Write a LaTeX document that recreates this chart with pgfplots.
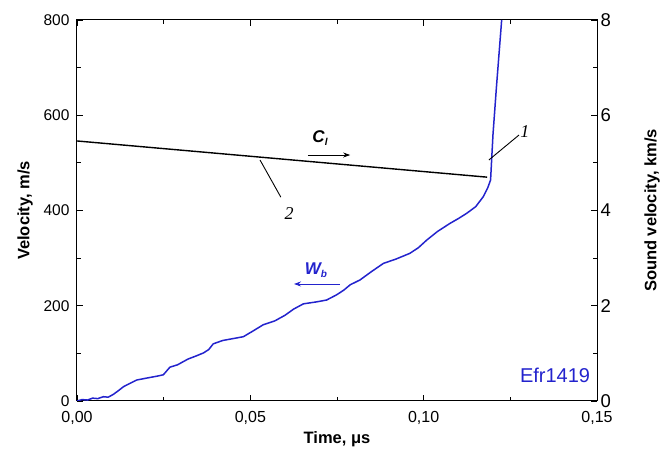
\documentclass[border=0pt]{standalone}
\usepackage{pgfplots}
\pgfplotsset{compat=1.18}
\usepackage{fontspec}
\setmainfont{Liberation Sans}
\newfontfamily\serifit{Liberation Serif}
\usetikzlibrary{arrows.meta}
\definecolor{wblue}{RGB}{35,35,205}

\begin{document}
\begin{tikzpicture}
\pgfplotsset{
  common/.style={
    scale only axis, width=520pt, height=381pt,
    xmin=0, xmax=0.15,
    axis line style={line width=1pt},
    tick style={black, line width=0.9pt},
    major tick length=6pt, minor tick length=4pt,
    tick align=inside,
    /pgf/number format/assume math mode=true,
    label style={font=\bfseries\fontsize{16.5}{18}\selectfont},
  }
}
% left axis: velocity of the boundary
\begin{axis}[common,
  ymin=0, ymax=800,
  ytick={0,200,400,600,800},
  minor ytick={100,300,500,700},
  xtick={0,0.05,0.1,0.15},
  xticklabels={0{,}00,0{,}05,0{,}10,0{,}15},
  minor xtick={0.025,0.075,0.125},
  xtick pos=both, ytick pos=left,
  xticklabel style={font=\fontsize{16}{18}\selectfont, yshift=-7pt},
  yticklabel style={font=\fontsize{15.5}{17}\selectfont, xshift=-4pt},
  xlabel={Time, μs},
  ylabel={Velocity, m/s},
  xlabel style={at={(axis description cs:0.5,0)}, anchor=center, yshift=-38pt},
  ylabel style={at={(axis description cs:0,0.5)}, anchor=center, yshift=52pt},
  clip=true,
]
\addplot[wblue, line width=1.5pt] coordinates {
 (0,0) (0.0015,3) (0.0030,2) (0.0045,6) (0.0060,5) (0.0076,9) (0.0090,8) (0.0105,14)
 (0.0120,22) (0.0134,30) (0.0150,36) (0.0172,44) (0.0200,48) (0.0230,52) (0.0249,55)
 (0.0268,71) (0.0290,76) (0.0320,88) (0.0345,95) (0.0365,101) (0.0380,108) (0.0393,120)
 (0.0420,127) (0.0450,131) (0.0480,135) (0.0510,148) (0.0537,160) (0.0570,168)
 (0.0600,180) (0.0625,193) (0.0653,204) (0.0690,208) (0.0720,212) (0.0749,223)
 (0.0770,233) (0.0788,244) (0.0816,254) (0.0850,272) (0.0884,289) (0.0920,298)
 (0.0960,310) (0.0985,322) (0.1009,338) (0.1040,356) (0.1076,373) (0.1100,383)
 (0.1124,394) (0.1150,408) (0.1172,429) (0.1185,448) (0.1193,464) (0.1200,560)
 (0.1210,660) (0.1225,800)
};
% arrow and label of the boundary velocity
\draw[wblue, line width=0.8pt, -{Stealth[length=7pt,width=5pt]}]
  (axis cs:0.0759,245.7) -- (axis cs:0.0626,245.7);
\node[wblue, font=\bfseries\itshape\fontsize{17}{19}\selectfont]
  at (axis cs:0.0689,275) {W\raisebox{-3pt}{\fontsize{10}{11}\selectfont b}};
% arrow and label of the sound velocity
\draw[black, line width=0.8pt, -{Stealth[length=7pt,width=5pt]}]
  (axis cs:0.0666,516.5) -- (axis cs:0.0788,516.5);
\node[black, font=\bfseries\itshape\fontsize{17}{19}\selectfont]
  at (axis cs:0.0701,553) {C\raisebox{-3pt}{\fontsize{10}{11}\selectfont l}};
% curve numbers
\draw[black, line width=0.9pt] (axis cs:0.1188,506) -- (axis cs:0.1275,558.5);
\node[font=\serifit\itshape\fontsize{18}{20}\selectfont] at (axis cs:0.1292,566) {1};
\draw[black, line width=0.9pt] (axis cs:0.0528,506) -- (axis cs:0.0588,428);
\node[font=\serifit\itshape\fontsize{18}{20}\selectfont] at (axis cs:0.0612,393) {2};
\node[wblue, font=\fontsize{20}{22}\selectfont] at (axis cs:0.1379,54.6) {Efr1419};
\end{axis}
% right axis: sound velocity
\begin{axis}[common,
  ymin=0, ymax=8,
  ytick={0,2,4,6,8},
  minor ytick={1,3,5,7},
  axis x line=none,
  axis y line*=right,
  ytick pos=right,
  yticklabel style={font=\fontsize{18.5}{20}\selectfont},
  ylabel={Sound velocity, km/s},
  ylabel style={at={(axis description cs:1,0.5)}, anchor=center, yshift=-55pt},
]
\addplot[black, line width=1.4pt] coordinates {
 (0,5.46) (0.1183,4.70)
};
\end{axis}
\pgfresetboundingbox
\useasboundingbox (-77pt,-48pt) rectangle (584pt,401pt);
\end{tikzpicture}
\end{document}
